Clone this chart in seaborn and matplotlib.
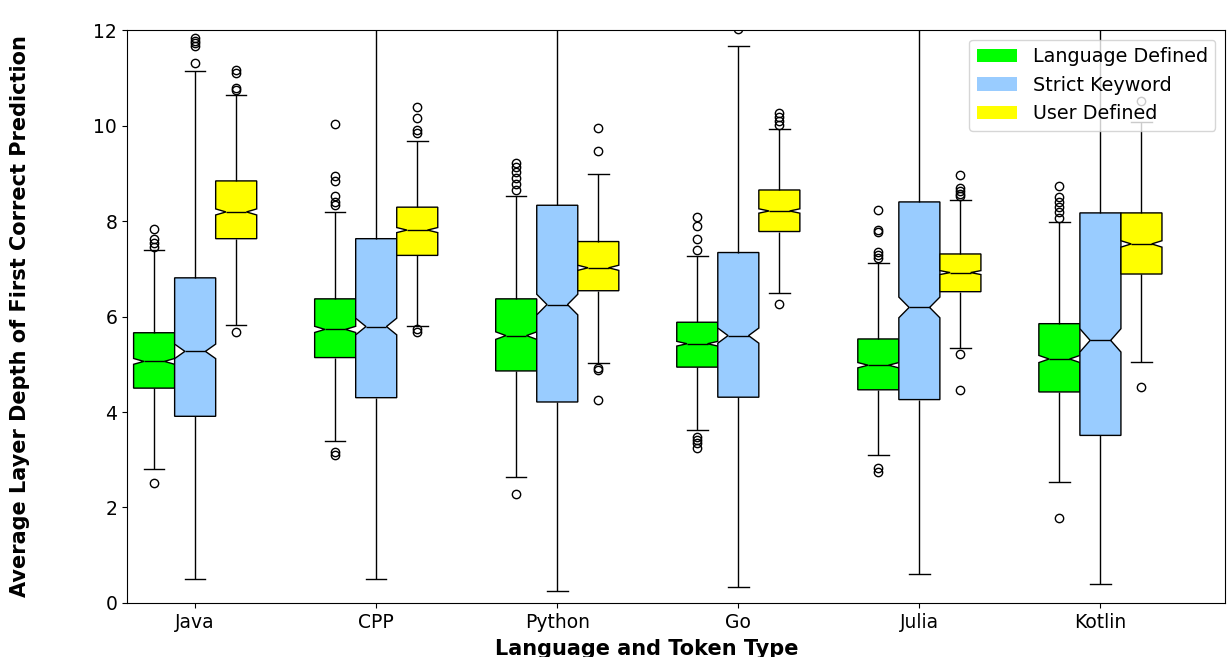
import numpy as np
import pandas as pd
import matplotlib
matplotlib.use("Agg")
import matplotlib.pyplot as plt
import matplotlib.patches as mpatches
import seaborn as sns

# ── Data (box summary per language / token type) ────────────────────────────
languages = ["Java", "CPP", "Python", "Go", "Julia", "Kotlin"]
token_types = ["Language Defined", "Strict Keyword", "User Defined"]
colors = ["#00FF00", "#99CCFF", "#FFFF00"]

# Language Defined
ld_q1 = [4.50, 5.14, 4.86, 4.94, 4.465, 4.42]
ld_med = [5.06, 5.73, 5.60, 5.43, 4.98, 5.11]
ld_q3 = [5.66, 6.37, 6.37, 5.88, 5.53, 5.85]
ld_lo = [2.80, 3.40, 2.63, 3.63, 3.10, 2.54]
ld_hi = [7.39, 8.18, 8.53, 7.27, 7.12, 7.98]
ld_fliers = [
    [2.52, 7.45, 7.53, 7.62, 7.83],
    [3.09, 3.16, 8.34, 8.39, 8.52, 8.84, 8.95, 10.03],
    [2.28, 8.66, 8.78, 8.90, 9.02, 9.14, 9.22],
    [3.25, 3.35, 3.42, 3.48, 7.40, 7.62, 7.89, 8.08],
    [2.74, 2.83, 7.22, 7.29, 7.36, 7.78, 7.82, 8.24],
    [1.79, 8.07, 8.18, 8.29, 8.40, 8.51, 8.73],
]

# Strict Keyword
sk_q1 = [3.91, 4.30, 4.21, 4.31, 4.26, 3.51]
sk_med = [5.27, 5.79, 6.25, 5.60, 6.19, 5.50]
sk_q3 = [6.81, 7.63, 8.33, 7.34, 8.40, 8.17]
sk_lo = [0.50, 0.50, 0.25, 0.34, 0.61, 0.40]
sk_hi = [11.14, 12.40, 13.00, 11.66, 13.00, 12.80]
sk_fliers = [
    [11.30, 11.66, 11.73, 11.78, 11.84],
    [],
    [],
    [12.02],
    [],
    [],
]

# User Defined
ud_q1 = [7.63, 7.28, 6.54, 7.78, 6.52, 6.89]
ud_med = [8.19, 7.81, 7.02, 8.21, 6.92, 7.52]
ud_q3 = [8.84, 8.29, 7.57, 8.65, 7.31, 8.17]
ud_lo = [5.82, 5.81, 5.02, 6.49, 5.34, 5.05]
ud_hi = [10.64, 9.68, 8.99, 9.93, 8.43, 10.07]
ud_fliers = [
    [5.67, 10.74, 10.78, 11.10, 11.16],
    [5.67, 5.73, 9.84, 9.90, 10.16, 10.38],
    [4.26, 4.89, 4.93, 9.47, 9.94],
    [6.27, 10.02, 10.10, 10.18, 10.26],
    [4.47, 5.21, 8.52, 8.56, 8.62, 8.70, 8.97],
    [4.52, 10.51],
]

# samples per box (sets notch size)
n_per_box = 900

summary = {
    "Language Defined": (ld_q1, ld_med, ld_q3, ld_lo, ld_hi, ld_fliers),
    "Strict Keyword": (sk_q1, sk_med, sk_q3, sk_lo, sk_hi, sk_fliers),
    "User Defined": (ud_q1, ud_med, ud_q3, ud_lo, ud_hi, ud_fliers),
}

# ── Build a long table whose quartiles / whiskers equal the read values ─────
rows = []
for tok, (q1, med, q3, lo, hi, fl) in summary.items():
    for i, lang in enumerate(languages):
        k = (n_per_box - len(fl[i]) - 2) // 3
        vals = list(fl[i]) + [lo[i], hi[i]] + [q1[i]] * k + [med[i]] * k + [q3[i]] * k
        rows += [(lang, tok, v) for v in vals]
df = pd.DataFrame(rows, columns=["Language", "Token", "Depth"])

# ── Plot ─────────────────────────────────────────────────────────────────────
fig, ax = plt.subplots(figsize=(12.32, 6.57), dpi=100)
fig.subplots_adjust(left=0.103, right=0.9943, top=0.9543, bottom=0.0822)

sns.boxplot(
    data=df, x="Language", y="Depth", hue="Token",
    order=languages, hue_order=token_types, palette=colors, saturation=1,
    notch=True, width=0.68, linecolor="black", linewidth=1,
    fliersize=6, legend=False, ax=ax,
)

ax.set_ylim(0, 12)
ax.set_xlim(-0.377, 5.688)
ax.set_yticks(range(0, 13, 2))
ax.tick_params(labelsize=13.5)
ax.set_xlabel("Language and Token Type", fontsize=15, fontweight="bold", labelpad=5)
ax.xaxis.label.set_x(0.4736)
ax.set_ylabel("Average Layer Depth of First Correct Prediction", fontsize=15,
              fontweight="bold", labelpad=46)

handles = [mpatches.Patch(facecolor=c, edgecolor="none", label=t) for c, t in zip(colors, token_types)]
ax.legend(handles=handles, loc="upper right", fontsize=13.8, handlelength=2.1)

plt.savefig("out.png", dpi=100)
plt.close()
